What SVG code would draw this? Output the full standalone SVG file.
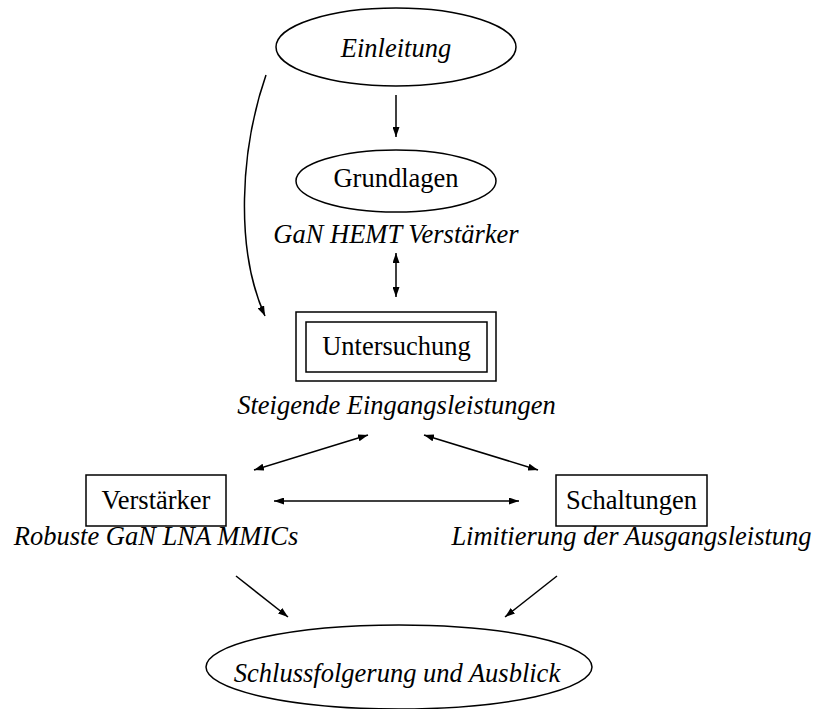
<svg xmlns="http://www.w3.org/2000/svg" width="814" height="709" viewBox="0 0 814 709">
<defs>
<style>
.shape{fill:none;stroke:#000;stroke-width:1.5}
.t{font-family:"Liberation Serif","Times New Roman",serif;font-size:26.5px;fill:#000;text-anchor:middle}
.i{font-style:italic}
.edge{fill:none;stroke:#000;stroke-width:1.5}
</style>
<marker id="ah" viewBox="0 0 10 7" refX="10" refY="3.5" markerWidth="10" markerHeight="7" markerUnits="userSpaceOnUse" orient="auto-start-reverse">
<path d="M0,0 L10,3.5 L0,7 z" fill="#000"/>
</marker>
</defs>
<rect width="814" height="709" fill="#fff"/>
<g id="connectors">
<path class="edge" d="M396,95 L396,137" marker-end="url(#ah)"/>
<path class="edge" d="M396,253 L396,297" marker-start="url(#ah)" marker-end="url(#ah)"/>
<path class="edge" d="M266,75 C240,150 235,250 265,316" marker-end="url(#ah)"/>
<path class="edge" d="M368,435 L254,470" marker-start="url(#ah)" marker-end="url(#ah)"/>
<path class="edge" d="M424,435 L538,470" marker-start="url(#ah)" marker-end="url(#ah)"/>
<path class="edge" d="M274,501 L519,501" marker-start="url(#ah)" marker-end="url(#ah)"/>
<path class="edge" d="M236,576 L288,617" marker-end="url(#ah)"/>
<path class="edge" d="M557,576 L505,617" marker-end="url(#ah)"/>
</g>
<g id="einleitung">
<ellipse class="shape" cx="396" cy="47" rx="120" ry="39"/>
<text class="t i" x="396" y="57">Einleitung</text>
</g>
<g id="grundlagen">
<ellipse class="shape" cx="396" cy="181" rx="100" ry="31"/>
<text class="t" x="396" y="187">Grundlagen</text>
<text class="t i" x="396" y="243">GaN HEMT Verstärker</text>
</g>
<g id="untersuchung">
<rect class="shape" x="296" y="312" width="200" height="69"/>
<rect class="shape" x="306" y="322" width="181" height="50"/>
<text class="t" x="396.5" y="355">Untersuchung</text>
<text class="t i" x="396.5" y="414">Steigende Eingangsleistungen</text>
</g>
<g id="verstaerker">
<rect class="shape" x="86" y="475" width="140" height="51"/>
<text class="t" x="156" y="509">Verstärker</text>
<text class="t i" x="156" y="545">Robuste GaN LNA MMICs</text>
</g>
<g id="schaltungen">
<rect class="shape" x="556" y="475" width="151" height="51"/>
<text class="t" x="631.5" y="509">Schaltungen</text>
<text class="t i" x="631.5" y="545">Limitierung der Ausgangsleistung</text>
</g>
<g id="schluss">
<ellipse class="shape" cx="399" cy="667" rx="193" ry="42"/>
<text class="t i" x="397" y="682">Schlussfolgerung und Ausblick</text>
</g>
</svg>
